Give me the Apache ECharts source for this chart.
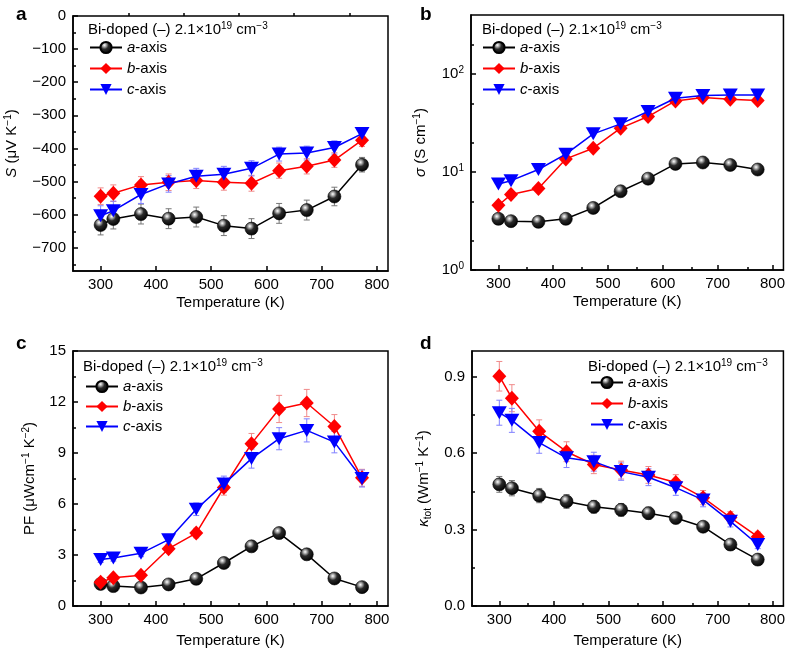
<!DOCTYPE html>
<html><head><meta charset="utf-8">
<script src="https://cdn.jsdelivr.net/npm/echarts@6/dist/echarts.min.js"></script>
<style>html,body{margin:0;padding:0;background:#fff}#c{width:788px;height:650px}</style>
</head><body><div id="c"></div>
<script>
// ---------- data ----------
const temps = [300, 323, 373, 423, 473, 523, 573, 623, 673, 723, 773];
const seriesNames = ['a-axis', 'b-axis', 'c-axis'];
const xTicks = [300, 400, 500, 600, 700, 800];
const xMinorTicks = [350, 450, 550, 650, 750];

// panel a: Seebeck coefficient S (uV/K)
const seebeckA = [-631, -613, -598, -612, -607, -633, -642, -596, -586, -545, -449];
const seebeckB = [-544, -535, -510, -502, -497, -502, -505, -467, -454, -435, -375];
const seebeckC = [-603, -588, -539, -507, -484, -478, -460, -417, -414, -397, -355];
const seebeckErrA = [30, 30, 30, 30, 30, 30, 30, 30, 30, 28, 22];
const seebeckErrB = [25, 25, 25, 25, 24, 24, 24, 23, 23, 22, 19];
const seebeckErrC = [30, 29, 27, 25, 24, 24, 23, 21, 21, 20, 18];
const seebeckTicks = [-700, -600, -500, -400, -300, -200, -100, 0];
const seebeckMinor = [-750, -650, -550, -450, -350, -250, -150, -50];

// panel b: electrical conductivity sigma (S/cm), log scale
const sigmaA = [3.33, 3.15, 3.10, 3.33, 4.30, 6.36, 8.55, 12.1, 12.5, 11.8, 10.6];
const sigmaB = [4.58, 5.88, 6.77, 13.6, 17.5, 28.0, 36.8, 53.1, 57.5, 55.2, 53.6];
const sigmaC = [7.55, 8.16, 10.6, 15.2, 24.5, 31.0, 41.4, 56.6, 60.2, 61.1, 61.1];
const sigmaTicks = [1, 10, 100];
const sigmaMinor = [2, 5, 20, 50, 200];

// panel c: power factor PF (uW cm^-1 K^-2)
const pfA = [1.30, 1.17, 1.09, 1.27, 1.60, 2.53, 3.51, 4.29, 3.04, 1.62, 1.11];
const pfB = [1.40, 1.66, 1.81, 3.37, 4.29, 6.97, 9.55, 11.59, 11.94, 10.56, 7.54];
const pfC = [2.73, 2.82, 3.10, 3.90, 5.69, 7.17, 8.67, 9.84, 10.33, 9.64, 7.50];
const pfErrA = [0.08, 0.07, 0.07, 0.08, 0.10, 0.16, 0.22, 0.27, 0.19, 0.10, 0.07];
const pfErrB = [0.09, 0.10, 0.12, 0.22, 0.28, 0.45, 0.60, 0.80, 0.80, 0.70, 0.50];
const pfErrC = [0.17, 0.18, 0.20, 0.25, 0.37, 0.47, 0.56, 0.65, 0.68, 0.63, 0.50];
const pfTicks = [0, 3, 6, 9, 12, 15];
const pfMinor = [1.5, 4.5, 7.5, 10.5, 13.5];

// panel d: total thermal conductivity (W m^-1 K^-1)
const kappaA = [0.477, 0.462, 0.433, 0.410, 0.389, 0.377, 0.364, 0.345, 0.311, 0.241, 0.182];
const kappaB = [0.901, 0.815, 0.685, 0.605, 0.555, 0.533, 0.514, 0.484, 0.425, 0.347, 0.272];
const kappaC = [0.758, 0.728, 0.641, 0.581, 0.566, 0.527, 0.505, 0.464, 0.416, 0.332, 0.241];
const kappaErrA = [0.031, 0.030, 0.028, 0.027, 0.025, 0.025, 0.024, 0.022, 0.020, 0.016, 0.012];
const kappaErrB = [0.058, 0.053, 0.045, 0.039, 0.036, 0.035, 0.033, 0.031, 0.028, 0.023, 0.018];
const kappaErrC = [0.049, 0.047, 0.042, 0.038, 0.037, 0.034, 0.033, 0.030, 0.027, 0.022, 0.016];
const kappaTicks = [0, 0.3, 0.6, 0.9];
const kappaMinor = [0.15, 0.45, 0.75];

// ---------- styling ----------
const FONT = 'Liberation Sans, Arial, Helvetica, sans-serif';
const FS = 15;
const grids = [
  {left: 73, top: 16, width: 315, height: 255},
  {left: 471, top: 15, width: 315, height: 255},
  {left: 73, top: 351, width: 315, height: 255},
  {left: 472, top: 351, width: 315, height: 255}
];
const sphere = {type: 'radial', x: 0.38, y: 0.32, r: 0.7, colorStops: [
  {offset: 0, color: '#ffffff'}, {offset: 0.18, color: '#b0b0b0'},
  {offset: 0.45, color: '#2a2a2a'}, {offset: 1, color: '#000000'}]};
const styles = [
  {line: '#000000', err: '#777777', symbol: 'circle', size: 13, rotate: 0, fill: sphere},
  {line: '#ff0000', err: '#f08a8a', symbol: 'diamond', size: [14, 15], rotate: 0, fill: '#ff0000'},
  {line: '#0000ff', err: '#8080ff', symbol: 'triangle', size: [15, 13], rotate: 180, fill: '#0000ff'}
];
const rich = {
  i: {fontStyle: 'italic', fontSize: FS, fontFamily: FONT, color: '#000'},
  sup: {fontSize: 10, verticalAlign: 'top', fontFamily: FONT, color: '#000', lineHeight: 18},
  sub: {fontSize: 10, verticalAlign: 'bottom', fontFamily: FONT, color: '#000', lineHeight: 18},
  n: {fontSize: FS, fontFamily: FONT, color: '#000', lineHeight: 18}
};

const options = {grid: [], xAxis: [], yAxis: [], series: [], legend: [], title: [], animation: false, backgroundColor: '#fff'};

grids.forEach((g, i) => {
  options.grid.push(Object.assign({show: true, borderColor: '#000', borderWidth: 1.5, backgroundColor: 'transparent'}, g));
});
grids.forEach((g, i) => {
  options.grid.push(Object.assign({show: false}, g));
});

const axisLineStyle = {color: '#000', width: 1.5};
function mainX(i, nameGap) {
  return {gridIndex: i, type: 'value', min: 250, max: 820,
    axisLine: {show: true, onZero: false, lineStyle: axisLineStyle},
    axisTick: {show: true, inside: true, length: 5, customValues: xTicks, lineStyle: axisLineStyle},
    axisLabel: {customValues: xTicks, fontSize: FS, color: '#000', fontFamily: FONT, margin: 6},
    splitLine: {show: false},
    name: 'Temperature (K)', nameLocation: 'middle', nameGap: nameGap,
    nameTextStyle: {fontSize: FS, color: '#000', fontFamily: FONT}};
}
function minorX(i) {
  return {gridIndex: i, type: 'value', min: 250, max: 820,
    axisLine: {show: false}, axisLabel: {show: false}, splitLine: {show: false},
    axisTick: {show: true, inside: true, length: 3, customValues: xMinorTicks, lineStyle: axisLineStyle}};
}
function mainY(i, cfg) {
  return Object.assign({gridIndex: i, type: cfg.type || 'value', min: cfg.min, max: cfg.max,
    axisLine: {show: true, onZero: false, lineStyle: axisLineStyle},
    axisTick: {show: true, inside: true, length: 5, customValues: cfg.ticks, lineStyle: axisLineStyle},
    axisLabel: {customValues: cfg.ticks, fontSize: FS, color: '#000', fontFamily: FONT, margin: 7,
      formatter: cfg.fmt, rich: rich},
    splitLine: {show: false},
    name: cfg.name, nameLocation: 'middle', nameGap: cfg.nameGap, nameRotate: 90,
    nameTextStyle: {fontSize: FS, color: '#000', fontFamily: FONT, rich: rich}}, cfg.type === 'log' ? {logBase: 10} : {});
}
function minorY(i, cfg) {
  return Object.assign({gridIndex: i, type: cfg.type || 'value', min: cfg.min, max: cfg.max,
    axisLine: {show: false}, axisLabel: {show: false}, splitLine: {show: false},
    axisTick: {show: true, inside: true, length: 3, customValues: cfg.minor, lineStyle: axisLineStyle}},
    cfg.type === 'log' ? {logBase: 10} : {});
}

const panels = [
  {y: {min: -770, max: 0, ticks: seebeckTicks, minor: seebeckMinor, nameGap: 52,
       name: '{i|S} {n|(μV K}{sup|−1}{n|)}',
       fmt: v => v === 0 ? '0' : (v < 0 ? '\u2212' + Math.abs(v) : String(v))},
   vals: [seebeckA, seebeckB, seebeckC], errs: [seebeckErrA, seebeckErrB, seebeckErrC], xGap: 24},
  {y: {type: 'log', min: 1, max: 400, ticks: sigmaTicks, minor: sigmaMinor, nameGap: 41,
       name: '{i|σ} {n|(S cm}{sup|−1}{n|)}',
       fmt: v => '{n|10}{sup|' + Math.round(Math.log10(v)) + '}'},
   vals: [sigmaA, sigmaB, sigmaC], errs: null, xGap: 24},
  {y: {min: 0, max: 15, ticks: pfTicks, minor: pfMinor, nameGap: 34,
       name: '{n|PF (μWcm}{sup|−1}{n| K}{sup|−2}{n|)}',
       fmt: v => String(v)},
   vals: [pfA, pfB, pfC], errs: [pfErrA, pfErrB, pfErrC], xGap: 27},
  {y: {min: 0, max: 1.0, ticks: kappaTicks, minor: kappaMinor, nameGap: 39,
       name: '{i|κ}{sub|tot}{n| (Wm}{sup|−1}{n| K}{sup|−1}{n|)}',
       fmt: v => v.toFixed(1)},
   vals: [kappaA, kappaB, kappaC], errs: [kappaErrA, kappaErrB, kappaErrC], xGap: 27}
];

function errRender(color) {
  return function (params, api) {
    const x = api.value(0), y = api.value(1), e = api.value(2);
    const lo = api.coord([x, y - e]), hi = api.coord([x, y + e]);
    const w = 3;
    const st = {stroke: color, lineWidth: 1};
    return {type: 'group', children: [
      {type: 'line', shape: {x1: lo[0], y1: lo[1], x2: hi[0], y2: hi[1]}, style: st},
      {type: 'line', shape: {x1: lo[0] - w, y1: lo[1], x2: lo[0] + w, y2: lo[1]}, style: st},
      {type: 'line', shape: {x1: hi[0] - w, y1: hi[1], x2: hi[0] + w, y2: hi[1]}, style: st}
    ]};
  };
}

panels.forEach((p, i) => {
  options.xAxis[i] = mainX(i, p.xGap);
  options.xAxis[i + 4] = minorX(i + 4);
  options.yAxis[i] = mainY(i, p.y);
  options.yAxis[i + 4] = minorY(i + 4, p.y);
  if (p.errs) {
    p.errs.forEach((errArr, s) => {
      options.series.push({type: 'custom', xAxisIndex: i, yAxisIndex: i, z: 1, silent: true,
        encode: {x: 0, y: 1},
        data: temps.map((t, k) => [t, p.vals[s][k], errArr[k]]),
        renderItem: errRender(styles[s].err)});
    });
  }
  p.vals.forEach((arr, s) => {
    const st = styles[s];
    options.series.push({type: 'line', name: seriesNames[s], xAxisIndex: i, yAxisIndex: i, z: 3 + s,
      data: temps.map((t, k) => [t, arr[k]]),
      symbol: st.symbol, symbolSize: st.size, symbolRotate: st.rotate,
      lineStyle: {color: st.line, width: 1.5},
      itemStyle: {color: st.fill, borderColor: st.line, borderWidth: s === 0 ? 0.6 : 0}});
  });
});

// legends & titles
const legendPos = [
  {left: 89, top: 40, itemGap: 6},
  {left: 482, top: 40, itemGap: 6},
  {left: 85, top: 379, itemGap: 5},
  {left: 590, top: 375, itemGap: 6}
];
legendPos.forEach(lp => {
  options.legend.push({data: seriesNames, orient: 'vertical', left: lp.left, top: lp.top, padding: 0,
    itemGap: lp.itemGap, itemWidth: 32, itemHeight: 14, selectedMode: false,
    formatter: n => '{i|' + n[0] + '}{n|' + n.slice(1) + '}',
    textStyle: {fontSize: FS, color: '#000', fontFamily: FONT, rich: rich}});
});
const titlePos = [[88, 21], [482, 21], [83, 358], [588, 358]];
titlePos.forEach(tp => {
  options.title.push({text: '{n|Bi-doped (–) 2.1×10}{sup|19}{n| cm}{sup|−3}', left: tp[0], top: tp[1], padding: 0,
    textStyle: {fontSize: FS, fontWeight: 'normal', color: '#000', fontFamily: FONT, rich: rich}});
});
const letters = [['a', 16, 5], ['b', 420, 5], ['c', 16, 334], ['d', 420, 334]];
letters.forEach(l => {
  options.title.push({text: l[0], left: l[1], top: l[2], padding: 0,
    textStyle: {fontSize: 19, fontWeight: 'bold', color: '#000', fontFamily: FONT}});
});

const chart = echarts.init(document.getElementById('c'), null, {renderer: 'canvas'});
chart.setOption(options);
</script>
</body></html>
